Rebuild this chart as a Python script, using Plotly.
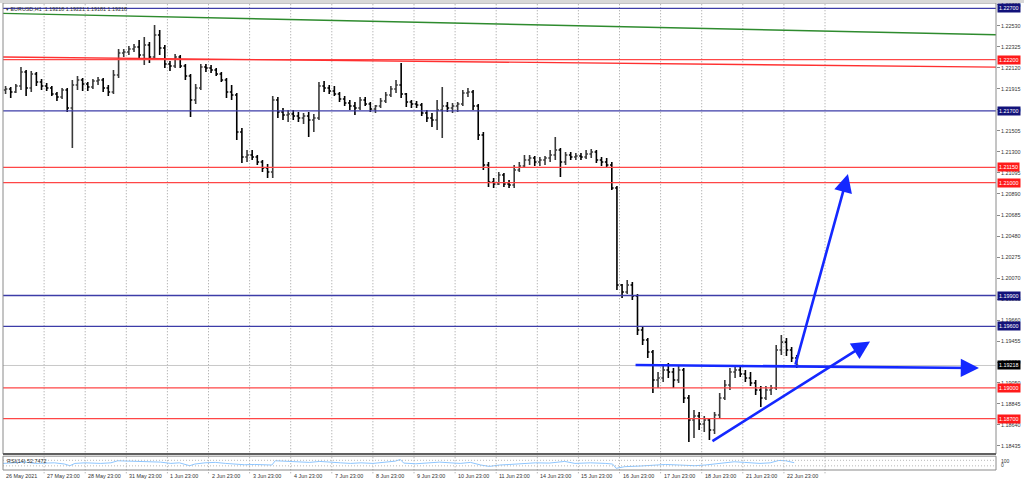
import plotly.graph_objects as go

# ---------------- data ----------------
day_labels = ["26 May 2021", "27 May 23:00", "28 May 23:00", "31 May 23:00", "1 Jun 23:00",
              "2 Jun 23:00", "3 Jun 23:00", "4 Jun 23:00", "7 Jun 23:00", "8 Jun 23:00",
              "9 Jun 23:00", "10 Jun 23:00", "11 Jun 23:00", "14 Jun 23:00", "15 Jun 23:00",
              "16 Jun 23:00", "17 Jun 23:00", "18 Jun 23:00", "21 Jun 23:00", "22 Jun 23:00"]
grid_days = 21          # dotted day separators (last one has no label)
HOURS_PER_DAY = 24
BAR_HOURS = 3
x_max = 579.85          # visible hours on the chart

open_ = [1.21904, 1.21913, 1.21884, 1.21943, 1.22079, 1.21923, 1.22060, 1.21982,
         1.21943, 1.21923, 1.21865, 1.21835, 1.21904, 1.21728, 1.21952, 1.22001,
         1.21962, 1.21933, 1.21991, 1.22001, 1.21923, 1.21884, 1.22050, 1.22264,
         1.22274, 1.22303, 1.22323, 1.22245, 1.22342, 1.22225, 1.22440, 1.22313,
         1.22157, 1.22138, 1.22225, 1.22138, 1.22040, 1.21806, 1.21923, 1.22128,
         1.22118, 1.22099, 1.22060, 1.22001, 1.21884, 1.21855, 1.21494, 1.21250,
         1.21270, 1.21250, 1.21202, 1.21143, 1.21104, 1.21806, 1.21689, 1.21660,
         1.21670, 1.21650, 1.21631, 1.21650, 1.21611, 1.21631, 1.21943, 1.21923,
         1.21894, 1.21865, 1.21816, 1.21777, 1.21748, 1.21728, 1.21806, 1.21767,
         1.21718, 1.21748, 1.21796, 1.21855, 1.21913, 1.21952, 1.21865, 1.21787,
         1.21767, 1.21757, 1.21679, 1.21631, 1.21611, 1.21709, 1.21748, 1.21728,
         1.21748, 1.21767, 1.21874, 1.21884, 1.21748, 1.21465, 1.21172, 1.21007,
         1.20987, 1.21075, 1.20987, 1.20977, 1.21124, 1.21163, 1.21221, 1.21241,
         1.21202, 1.21221, 1.21241, 1.21270, 1.21319, 1.21202, 1.21270, 1.21250,
         1.21260, 1.21250, 1.21280, 1.21299, 1.21221, 1.21202, 1.21172, 1.20948,
         1.20002, 1.19934, 1.20002, 1.19895, 1.19564, 1.19466, 1.19349, 1.19076,
         1.19096, 1.19174, 1.19154, 1.19076, 1.19174, 1.18901, 1.18686, 1.18725,
         1.18647, 1.18686, 1.18589, 1.18735, 1.18901, 1.19027, 1.19154, 1.19174,
         1.19135, 1.19096, 1.19047, 1.18979, 1.18901, 1.18979, 1.18998, 1.19369,
         1.19446, 1.19369, 1.19291]
high = [1.21943, 1.21933, 1.21962, 1.22128, 1.22099, 1.22089, 1.22079, 1.22011,
        1.21972, 1.21943, 1.21884, 1.21923, 1.21923, 1.22001, 1.22040, 1.22021,
        1.21982, 1.22011, 1.22030, 1.22021, 1.21952, 1.22099, 1.22303, 1.22303,
        1.22333, 1.22352, 1.22391, 1.22420, 1.22372, 1.22537, 1.22489, 1.22342,
        1.22186, 1.22255, 1.22245, 1.22157, 1.22060, 1.21962, 1.22157, 1.22157,
        1.22147, 1.22118, 1.22079, 1.22021, 1.21952, 1.21874, 1.21533, 1.21319,
        1.21319, 1.21270, 1.21221, 1.21182, 1.21845, 1.21835, 1.21728, 1.21709,
        1.21709, 1.21689, 1.21679, 1.21689, 1.21670, 1.21982, 1.21991, 1.21952,
        1.21943, 1.21884, 1.21845, 1.21806, 1.21787, 1.21835, 1.21835, 1.21787,
        1.21757, 1.21826, 1.21884, 1.21943, 1.22001, 1.22167, 1.21874, 1.21806,
        1.21796, 1.21777, 1.21709, 1.21679, 1.21806, 1.21933, 1.21787, 1.21777,
        1.21787, 1.21904, 1.21923, 1.21904, 1.21767, 1.21494, 1.21202, 1.21046,
        1.21104, 1.21094, 1.21026, 1.21172, 1.21202, 1.21270, 1.21270, 1.21260,
        1.21250, 1.21260, 1.21319, 1.21445, 1.21338, 1.21299, 1.21299, 1.21289,
        1.21289, 1.21319, 1.21328, 1.21319, 1.21250, 1.21241, 1.21202, 1.20968,
        1.20012, 1.20051, 1.20032, 1.19915, 1.19603, 1.19486, 1.19369, 1.19154,
        1.19213, 1.19242, 1.19193, 1.19213, 1.19193, 1.18930, 1.18784, 1.18764,
        1.18725, 1.18706, 1.18764, 1.18949, 1.19076, 1.19193, 1.19213, 1.19213,
        1.19174, 1.19154, 1.19076, 1.19018, 1.19018, 1.19027, 1.19417, 1.19515,
        1.19486, 1.19398, 1.19320]
low = [1.21865, 1.21826, 1.21874, 1.21904, 1.21845, 1.21884, 1.21943, 1.21904,
       1.21894, 1.21845, 1.21796, 1.21816, 1.21689, 1.21338, 1.21904, 1.21894,
       1.21894, 1.21913, 1.21952, 1.21884, 1.21845, 1.21865, 1.22021, 1.22225,
       1.22245, 1.22274, 1.22196, 1.22147, 1.22167, 1.22196, 1.22245, 1.22118,
       1.22089, 1.22118, 1.22118, 1.22001, 1.21640, 1.21767, 1.21904, 1.22079,
       1.22069, 1.22040, 1.21982, 1.21826, 1.21806, 1.21416, 1.21192, 1.21202,
       1.21221, 1.21172, 1.21104, 1.21046, 1.21046, 1.21631, 1.21611, 1.21592,
       1.21611, 1.21592, 1.21572, 1.21445, 1.21494, 1.21611, 1.21884, 1.21865,
       1.21845, 1.21787, 1.21748, 1.21709, 1.21660, 1.21709, 1.21748, 1.21689,
       1.21679, 1.21728, 1.21777, 1.21835, 1.21874, 1.21826, 1.21738, 1.21728,
       1.21728, 1.21650, 1.21592, 1.21543, 1.21514, 1.21436, 1.21689, 1.21679,
       1.21689, 1.21748, 1.21835, 1.21709, 1.21416, 1.21124, 1.20958, 1.20948,
       1.20977, 1.20958, 1.20948, 1.20948, 1.21104, 1.21143, 1.21172, 1.21163,
       1.21163, 1.21172, 1.21202, 1.21221, 1.21055, 1.21172, 1.21221, 1.21221,
       1.21221, 1.21231, 1.21241, 1.21192, 1.21163, 1.21143, 1.20929, 1.19954,
       1.19876, 1.19915, 1.19856, 1.19515, 1.19417, 1.19291, 1.18949, 1.18998,
       1.19057, 1.19096, 1.18998, 1.19047, 1.18852, 1.18472, 1.18511, 1.18589,
       1.18569, 1.18491, 1.18550, 1.18706, 1.18881, 1.18979, 1.19096, 1.19105,
       1.19057, 1.19018, 1.18930, 1.18813, 1.18881, 1.18930, 1.18979, 1.19320,
       1.19310, 1.19251, 1.19193]
close = [1.21913, 1.21884, 1.21943, 1.22079, 1.21923, 1.22060, 1.21982, 1.21943,
         1.21923, 1.21865, 1.21835, 1.21904, 1.21728, 1.21952, 1.22001, 1.21962,
         1.21933, 1.21991, 1.22001, 1.21923, 1.21884, 1.22050, 1.22264, 1.22274,
         1.22303, 1.22323, 1.22245, 1.22342, 1.22225, 1.22440, 1.22313, 1.22157,
         1.22138, 1.22225, 1.22138, 1.22040, 1.21806, 1.21923, 1.22128, 1.22118,
         1.22099, 1.22060, 1.22001, 1.21884, 1.21855, 1.21494, 1.21250, 1.21270,
         1.21250, 1.21202, 1.21143, 1.21104, 1.21806, 1.21689, 1.21660, 1.21670,
         1.21650, 1.21631, 1.21650, 1.21611, 1.21631, 1.21943, 1.21923, 1.21894,
         1.21865, 1.21816, 1.21777, 1.21748, 1.21728, 1.21806, 1.21767, 1.21718,
         1.21748, 1.21796, 1.21855, 1.21913, 1.21952, 1.21865, 1.21787, 1.21767,
         1.21757, 1.21679, 1.21631, 1.21611, 1.21709, 1.21748, 1.21728, 1.21748,
         1.21767, 1.21874, 1.21884, 1.21748, 1.21465, 1.21172, 1.21007, 1.20987,
         1.21075, 1.20987, 1.20977, 1.21124, 1.21163, 1.21221, 1.21241, 1.21202,
         1.21221, 1.21241, 1.21270, 1.21319, 1.21202, 1.21270, 1.21250, 1.21260,
         1.21250, 1.21280, 1.21299, 1.21221, 1.21202, 1.21172, 1.20948, 1.20002,
         1.19934, 1.20002, 1.19895, 1.19564, 1.19466, 1.19349, 1.19076, 1.19096,
         1.19174, 1.19154, 1.19076, 1.19174, 1.18901, 1.18686, 1.18725, 1.18647,
         1.18686, 1.18589, 1.18735, 1.18901, 1.19027, 1.19154, 1.19174, 1.19135,
         1.19096, 1.19047, 1.18979, 1.18901, 1.18979, 1.18998, 1.19369, 1.19446,
         1.19369, 1.19291, 1.19218]

# RSI(14) sub-window
rsi_x = [0, 7, 13, 19, 25, 30, 36, 39, 42, 48, 57, 63, 67, 74, 80, 86, 92, 98, 103, 109,
         112, 118, 124, 130, 136, 141, 147, 153, 157, 159, 168, 173, 179, 185, 191, 197, 203, 209, 216, 223,
         229, 232, 234, 241, 246, 255, 261, 267, 273, 279, 284, 290, 296, 302, 311, 319, 328, 334, 343, 352,
         356, 358, 363, 372, 381, 387, 395, 404, 410, 419, 427, 433, 442, 448, 453, 457, 462]
rsi_v = [47.6, 52.4, 57.0, 47.6, 47.6, 52.0, 43.0, 31.0, 47.6, 52.0, 47.6, 52.0, 66.7, 64.0, 62.0, 64.0, 57.0, 47.6, 52.0, 31.0,
         43.0, 52.0, 55.0, 47.6, 40.0, 38.0, 40.0, 38.0, 36.0, 67.0, 59.5, 57.0, 55.0, 62.0, 59.5, 52.0, 47.6, 52.0, 47.6, 57.0,
         64.0, 76.0, 50.0, 45.0, 47.6, 57.0, 52.0, 47.6, 55.0, 36.0, 26.0, 36.0, 40.0, 45.0, 52.0, 50.0, 62.0, 47.6, 52.0, 47.6,
         43.0, 12.0, 24.0, 28.6, 38.0, 40.0, 36.0, 31.0, 36.0, 47.6, 59.5, 55.0, 47.6, 52.0, 69.0, 67.0, 52.7]
rsi_levels = [30, 70]

price_ticks = [1.18435, 1.18640, 1.18845, 1.19050, 1.19250, 1.19455, 1.19660, 1.19865, 1.20070,
               1.20275, 1.20480, 1.20685, 1.20890, 1.21095, 1.21300, 1.21505, 1.21710, 1.21915,
               1.22120, 1.22325, 1.22530, 1.22735]

level_prices = [1.22700, 1.22200, 1.21700, 1.21150, 1.21000, 1.19900, 1.19600, 1.19000, 1.18700]
level_kind = ["blue", "red", "blue", "red", "red", "blue", "blue", "red", "red"]
bid_price = 1.19218

# sloping trend lines: [x0, x1], [y0, y1]
green_line_x, green_line_y = [0, x_max], [1.22651, 1.22442]
red_line_x, red_line_y = [0, x_max], [1.22225, 1.22127]

# blue arrows (tail -> head)
arrow_tail_x = [368.5, 462.5, 413.4]
arrow_tail_y = [1.19222, 1.19212, 1.18471]
arrow_head_x = [569.9, 493.4, 506.3]
arrow_head_y = [1.19193, 1.21084, 1.19451]

title_text = "EURUSD,H1  1.19218 1.19221 1.19181 1.19218"
rsi_text = "RSI(14) 52.7472"

# ---------------- styling ----------------
FONT = "Liberation Sans"
FS = 5.4
LEVEL_LINE = {"blue": "#3c3ca8", "red": "#ff4646"}
LEVEL_BOX = {"blue": "#12127a", "red": "#ff1a1a"}
ARROW = "#1428ff"

n = min(len(open_), len(high), len(low), len(close))
bar_x = [BAR_HOURS * j + BAR_HOURS / 2 for j in range(n)]

fig = go.Figure()
fig.add_trace(go.Ohlc(
    x=bar_x, open=open_[:n], high=high[:n], low=low[:n], close=close[:n],
    increasing=dict(line=dict(color="#3a3a3a", width=1.6)),
    decreasing=dict(line=dict(color="#000000", width=1.6)),
    tickwidth=0.35, hoverinfo="skip", xaxis="x", yaxis="y"))
fig.add_trace(go.Scatter(
    x=rsi_x, y=rsi_v, mode="lines", line=dict(color="#8ec6ff", width=1),
    hoverinfo="skip", xaxis="x", yaxis="y2"))

shapes = []
# vertical dotted day separators
for d in range(1, grid_days):
    shapes.append(dict(type="line", xref="x", yref="paper", x0=d * HOURS_PER_DAY, x1=d * HOURS_PER_DAY,
                       y0=-0.007, y1=1, line=dict(color="#9c9c9c", width=1, dash="1px,2px"), layer="below"))
# bid line
shapes.append(dict(type="line", xref="paper", yref="y", x0=0, x1=1, y0=bid_price, y1=bid_price,
                   line=dict(color="#c8c8c8", width=1)))
# horizontal levels
for p, k in zip(level_prices, level_kind):
    shapes.append(dict(type="line", xref="paper", yref="y", x0=0, x1=1, y0=p, y1=p,
                       line=dict(color=LEVEL_LINE[k], width=1.3)))
# sloping lines
shapes.append(dict(type="line", xref="x", yref="y", x0=green_line_x[0], x1=green_line_x[1],
                   y0=green_line_y[0], y1=green_line_y[1], line=dict(color="#2e8b2e", width=1.4)))
shapes.append(dict(type="line", xref="x", yref="y", x0=red_line_x[0], x1=red_line_x[1],
                   y0=red_line_y[0], y1=red_line_y[1], line=dict(color="#ff3030", width=1.4)))
# RSI levels
for lv in rsi_levels:
    shapes.append(dict(type="line", xref="paper", yref="y2", x0=0, x1=1, y0=lv, y1=lv,
                       line=dict(color="#b8b8b8", width=1, dash="1px,2px")))
# pane frames
shapes.append(dict(type="rect", xref="paper", yref="y domain", x0=0, x1=1, y0=0, y1=1,
                   line=dict(color="#8a8a8a", width=1)))
shapes.append(dict(type="rect", xref="paper", yref="y2 domain", x0=0, x1=1, y0=0, y1=1,
                   line=dict(color="#8a8a8a", width=1)))
shapes.append(dict(type="line", xref="paper", yref="y domain", x0=0, x1=1, y0=0, y1=0,
                   line=dict(color="#606060", width=2)))
# window top band
shapes.append(dict(type="rect", xref="paper", yref="paper", x0=-0.01, x1=1.03, y0=1.0, y1=1.007,
                   line=dict(width=0), fillcolor="#d8d8d8"))

annotations = []
# level labels on the price scale
for p, k in zip(level_prices, level_kind):
    annotations.append(dict(xref="paper", yref="y", x=1, y=p, xanchor="left", yanchor="middle", xshift=1,
                            text=f"{p:.5f}", showarrow=False, bgcolor=LEVEL_BOX[k], borderpad=1,
                            font=dict(family=FONT, size=FS, color="white")))
annotations.append(dict(xref="paper", yref="y", x=1, y=bid_price, xanchor="left", yanchor="middle", xshift=1,
                        text=f"{bid_price:.5f}", showarrow=False, bgcolor="#000000", borderpad=1,
                        font=dict(family=FONT, size=FS, color="white")))
# day labels
for d, lab in enumerate(day_labels):
    annotations.append(dict(xref="x", yref="paper", x=d * HOURS_PER_DAY, y=0, xanchor="left", yanchor="top",
                            xshift=1, yshift=-1, text=lab, showarrow=False,
                            font=dict(family=FONT, size=FS, color="#333333")))
# title & RSI caption
annotations.append(dict(xref="paper", yref="paper", x=0, y=1, xanchor="left", yanchor="top", xshift=1, yshift=-1,
                        text="▾ " + title_text, showarrow=False,
                        font=dict(family=FONT, size=FS, color="#333333")))
annotations.append(dict(xref="paper", yref="y2 domain", x=0, y=1, xanchor="left", yanchor="top", xshift=2,
                        text=rsi_text, showarrow=False,
                        font=dict(family=FONT, size=FS, color="#333333")))
annotations.append(dict(xref="paper", yref="y2", x=1, y=100, xanchor="left", yanchor="top", xshift=3,
                        text="100", showarrow=False, font=dict(family=FONT, size=FS - 0.4, color="#333333")))
annotations.append(dict(xref="paper", yref="y2", x=1, y=0, xanchor="left", yanchor="bottom", xshift=3,
                        text="0", showarrow=False, font=dict(family=FONT, size=FS - 0.4, color="#333333")))
# blue arrows
for tx, ty, hx, hy in zip(arrow_tail_x, arrow_tail_y, arrow_head_x, arrow_head_y):
    annotations.append(dict(xref="x", yref="y", axref="x", ayref="y", x=hx, y=hy, ax=tx, ay=ty,
                            text="", showarrow=True, arrowhead=2, arrowsize=1.4, arrowwidth=2.6,
                            arrowcolor=ARROW, standoff=0, startstandoff=0))

fig.update_layout(
    width=1024, height=481, margin=dict(l=3, r=28, t=3, b=11),
    paper_bgcolor="white", plot_bgcolor="white", showlegend=False,
    xaxis=dict(range=[0, x_max], anchor="y2", showgrid=False, showticklabels=False, zeroline=False,
               showline=False, ticks="", rangeslider=dict(visible=False)),
    yaxis=dict(domain=[0.0343, 1], range=[1.18355, 1.22752], side="right", anchor="x",
               tickvals=price_ticks, ticktext=[f"{v:.5f}" for v in price_ticks],
               ticks="outside", ticklen=3, tickcolor="#8a8a8a",
               tickfont=dict(family=FONT, size=FS, color="#333333"),
               showgrid=False, zeroline=False, showline=False),
    yaxis2=dict(domain=[0, 0.0296], range=[0, 100], side="right", anchor="x",
                showticklabels=False, ticks="", showgrid=False, zeroline=False, showline=False),
    shapes=shapes, annotations=annotations,
)

fig.write_html("out.html", config={"displayModeBar": False},
               post_script="document.body.style.margin='0px';")
